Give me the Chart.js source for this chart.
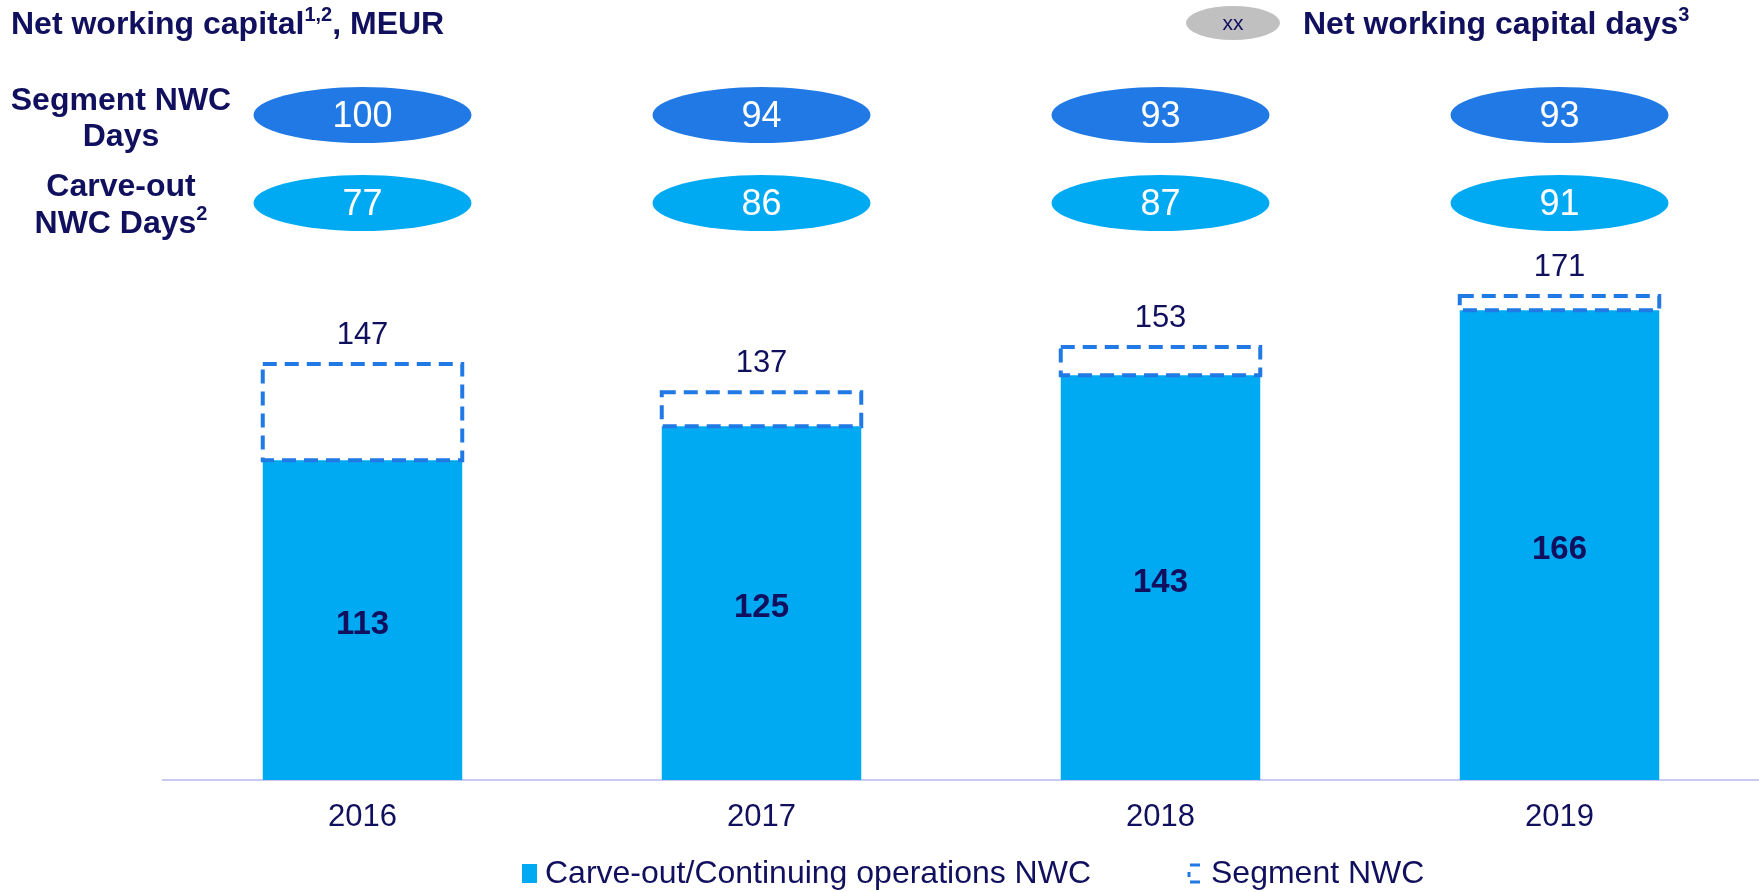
<!DOCTYPE html>
<html>
<head>
<meta charset="utf-8">
<script src="https://cdn.jsdelivr.net/npm/chart.js@4.4.1/dist/chart.umd.min.js"></script>
<style>
  html, body { margin: 0; padding: 0; background: #fff; overflow: hidden; }
  #wrap { width: 1759px; height: 892px; }
</style>
</head>
<body>
<div id="wrap"><canvas id="nwcChart" width="1759" height="892"></canvas></div>
<script>
// --- data ---
const YEARS = ['2016', '2017', '2018', '2019'];
const CARVE_OUT_NWC = [113, 125, 143, 166];   // MEUR, solid bars
const SEGMENT_NWC = [147, 137, 153, 171];     // MEUR, dashed outline
const SEGMENT_DAYS = [100, 94, 93, 93];
const CARVE_OUT_DAYS = [77, 86, 87, 91];
const Y_MAX = 200;

const FONT = '"Liberation Sans", Arial, sans-serif';
const NAVY = '#10105e';
const LIGHT_BLUE = '#00aaf2';
const MID_BLUE = '#2079e4';
const AXIS_COLOR = '#c9c9f2';

// draw a run of text pieces, some of them superscript
function drawRich(ctx, parts, x, y, size, weight, align) {
  const fontFor = (p) => `${weight} ${p.sup ? Math.round(size * 0.62) : size}px ${FONT}`;
  let total = 0;
  parts.forEach(p => { ctx.font = fontFor(p); total += ctx.measureText(p.t).width; });
  let cx = align === 'center' ? x - total / 2 : x;
  ctx.textAlign = 'left';
  ctx.textBaseline = 'alphabetic';
  parts.forEach(p => {
    ctx.font = fontFor(p);
    ctx.fillText(p.t, cx, p.sup ? y - size * 0.4 : y);
    cx += ctx.measureText(p.t).width;
  });
}

function ellipse(ctx, cx, cy, rx, ry, color) {
  ctx.beginPath();
  ctx.ellipse(cx, cy, rx, ry, 0, 0, Math.PI * 2);
  ctx.fillStyle = color;
  ctx.fill();
}

const decorPlugin = {
  id: 'decor',
  afterDatasetsDraw(chart) {
    const ctx = chart.ctx;
    const carveMeta = chart.getDatasetMeta(0);
    const segMeta = chart.getDatasetMeta(1);
    ctx.save();

    // dashed outline for the segment NWC part
    segMeta.data.forEach((bar) => {
      const { x, y, base, width } = bar.getProps(['x', 'y', 'base', 'width'], true);
      ctx.setLineDash([14, 8]);
      ctx.lineWidth = 4;
      ctx.strokeStyle = MID_BLUE;
      ctx.strokeRect(x - width / 2, y, width, base - y);
    });
    ctx.setLineDash([]);

    // values
    ctx.fillStyle = NAVY;
    ctx.textAlign = 'center';
    ctx.textBaseline = 'middle';
    carveMeta.data.forEach((bar, i) => {
      const { y, base } = bar.getProps(['y', 'base'], true);
      ctx.font = `bold 33px ${FONT}`;
      ctx.fillText(String(CARVE_OUT_NWC[i]), bar.x, (y + base) / 2 + 5);
    });
    segMeta.data.forEach((bar, i) => {
      const { y } = bar.getProps(['y'], true);
      ctx.font = `31px ${FONT}`;
      ctx.fillText(String(SEGMENT_NWC[i]), bar.x, y - 29);
    });
    ctx.restore();
  },
  afterDraw(chart) {
    const ctx = chart.ctx;
    const xs = chart.scales.x;
    ctx.save();

    // title + header legend
    ctx.fillStyle = NAVY;
    drawRich(ctx, [{ t: 'Net working capital' }, { t: '1,2', sup: true }, { t: ', MEUR' }], 11, 34, 32, 'bold', 'left');
    ellipse(ctx, 1233, 23, 47, 17, '#c0c0c0');
    ctx.fillStyle = NAVY;
    ctx.font = `21px ${FONT}`;
    ctx.textAlign = 'center';
    ctx.textBaseline = 'middle';
    ctx.fillText('xx', 1233, 24);
    drawRich(ctx, [{ t: 'Net working capital days' }, { t: '3', sup: true }], 1303, 34, 32, 'bold', 'left');

    // row labels
    ctx.fillStyle = NAVY;
    drawRich(ctx, [{ t: 'Segment NWC' }], 121, 110, 32, 'bold', 'center');
    drawRich(ctx, [{ t: 'Days' }], 121, 146, 32, 'bold', 'center');
    drawRich(ctx, [{ t: 'Carve-out' }], 121, 196, 32, 'bold', 'center');
    drawRich(ctx, [{ t: 'NWC Days' }, { t: '2', sup: true }], 121, 233, 32, 'bold', 'center');

    // day ellipses
    YEARS.forEach((yr, i) => {
      const cx = xs.getPixelForValue(i);
      ellipse(ctx, cx, 115, 109, 28, MID_BLUE);
      ellipse(ctx, cx, 203, 109, 28, LIGHT_BLUE);
      ctx.fillStyle = '#ffffff';
      ctx.font = `36px ${FONT}`;
      ctx.textAlign = 'center';
      ctx.textBaseline = 'middle';
      ctx.fillText(String(SEGMENT_DAYS[i]), cx, 117);
      ctx.fillText(String(CARVE_OUT_DAYS[i]), cx, 205);
    });

    // bottom legend
    const ly = 873;
    ctx.fillStyle = LIGHT_BLUE;
    ctx.fillRect(522, ly - 9, 15, 19);
    ctx.fillStyle = NAVY;
    ctx.font = `32px ${FONT}`;
    ctx.textAlign = 'left';
    ctx.textBaseline = 'middle';
    ctx.fillText(chart.data.datasets[0].label, 545, ly + 1);
    // bracket-like dashed icon
    ctx.strokeStyle = MID_BLUE;
    ctx.lineWidth = 3;
    ctx.beginPath();
    ctx.moveTo(1200, ly - 8); ctx.lineTo(1190, ly - 8);
    ctx.moveTo(1189, ly - 1); ctx.lineTo(1189, ly + 4);
    ctx.moveTo(1190, ly + 9); ctx.lineTo(1200, ly + 9);
    ctx.stroke();
    ctx.fillText(chart.data.datasets[1].label, 1211, ly + 1);
    ctx.restore();
  }
};

new Chart(document.getElementById('nwcChart'), {
  type: 'bar',
  data: {
    labels: YEARS,
    datasets: [
      {
        label: 'Carve-out/Continuing operations NWC',
        data: CARVE_OUT_NWC,
        backgroundColor: LIGHT_BLUE,
        borderWidth: 0,
        grouped: false,
        barPercentage: 0.5,
        categoryPercentage: 1,
        order: 2,
      },
      {
        label: 'Segment NWC',
        data: SEGMENT_NWC.map((v, i) => [CARVE_OUT_NWC[i], v]),
        backgroundColor: 'rgba(0,0,0,0)',
        borderWidth: 0,
        grouped: false,
        barPercentage: 0.5,
        categoryPercentage: 1,
        order: 1,
      },
    ],
  },
  options: {
    responsive: false,
    animation: false,
    devicePixelRatio: 1,
    layout: { padding: { top: 214, left: 163, right: 0, bottom: 0 } },
    plugins: {
      legend: { display: false },
      tooltip: { enabled: false },
    },
    scales: {
      x: {
        grid: { display: false, drawTicks: false },
        border: { display: true, color: AXIS_COLOR, width: 2 },
        ticks: { color: NAVY, font: { family: FONT, size: 31, lineHeight: 1.2 }, padding: 19 },
        afterFit: (scale) => { scale.height = 112; },
      },
      y: {
        display: false,
        min: 0,
        max: Y_MAX,
      },
    },
  },
  plugins: [decorPlugin],
});
</script>
</body>
</html>
